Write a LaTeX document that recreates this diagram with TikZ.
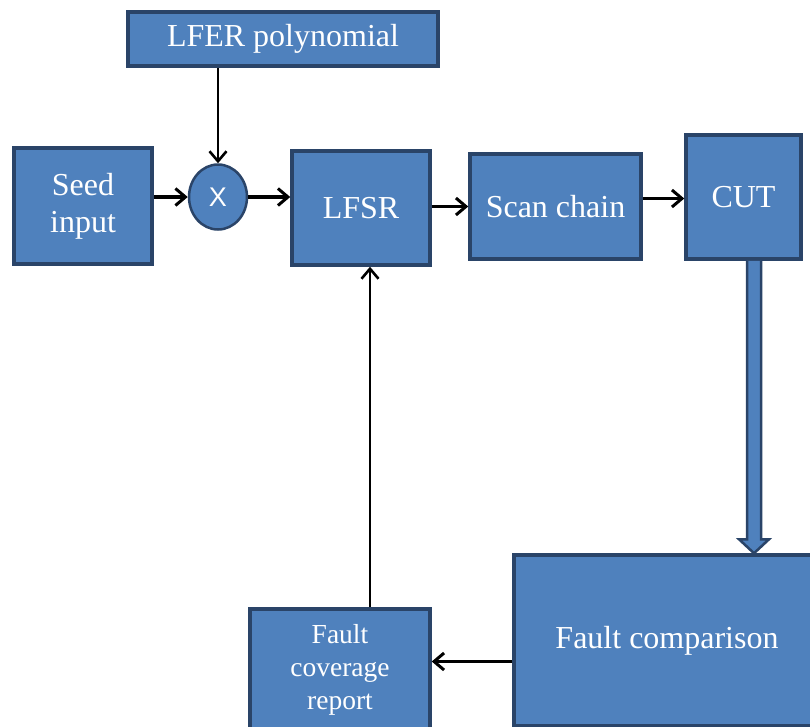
\documentclass[tikz,border=0pt]{standalone}
\usepackage{fontspec}
\setmainfont{Liberation Serif}
\newfontfamily\xsans{Liberation Sans}
\usetikzlibrary{arrows.meta,calc,shapes.geometric}
\definecolor{boxfill}{HTML}{4F81BD}
\definecolor{boxline}{HTML}{2A4468}
\tikzset{
  blk/.style={draw=boxline, fill=boxfill, line width=3.5pt, text=white, inner sep=0pt,
    align=center, font=\fontsize{32}{37}\selectfont},
  flowarrow/.style={draw=black, line width=3.4pt, -{Straight Barb[length=10pt,width=17pt,line width=3pt]}},
  thinarrow/.style={draw=black, line width=2.6pt, -{Straight Barb[length=10pt,width=17pt,line width=2.6pt]}},
}
\begin{document}
\begin{tikzpicture}[x=1pt,y=-1pt]
\useasboundingbox (0,0) rectangle (810,726);
\clip (0,0) rectangle (810,726);
\fill[white] (0,0) rectangle (810,726);

\node[blk, minimum width=310pt, minimum height=54pt] (lfer) at (283,39) {LFER polynomial};
\node[blk, minimum width=138pt, minimum height=116pt] (seed) at (83,206) {Seed\\input};
\node[blk, ellipse, minimum width=58pt, minimum height=65pt, line width=2.5pt,
      font=\xsans\fontsize{27}{30}\selectfont] (x) at (218,197) {X};
\node[blk, minimum width=138pt, minimum height=114pt] (lfsr) at (361,208) {LFSR};
\node[blk, minimum width=171pt, minimum height=105pt] (scan) at (555.5,206.5) {Scan chain};
\node[blk, minimum width=115pt, minimum height=124pt] (cut) at (743.5,197) {CUT};
\node[blk, minimum width=306pt, minimum height=171pt] (fcomp) at (667,640.5) {Fault comparison};
\node[blk, minimum width=180pt, minimum height=122pt, font=\fontsize{27.5}{33}\selectfont] (fcov) at (340,670) {Fault\\coverage\\report};

% connectors
\draw[thinarrow] (x.north |- lfer.south) -- (x.north);
\draw[flowarrow] (seed.east |- x.west) -- (x.west);
\draw[flowarrow] (x.east) -- (x.east -| lfsr.west);
\draw[flowarrow] (lfsr.east |- scan.west) -- (scan.west);
\coordinate (sc) at ($(scan.east)+(0,-8)$);
\draw[flowarrow] (sc) -- (sc -| cut.west);
\coordinate (fc) at ($(fcomp.west)+(0,21)$);
\draw[flowarrow] (fc) -- (fc -| fcov.east);
\coordinate (fv) at ($(fcov.north)+(30,0)$);
\draw[thinarrow] (fv) -- (fv |- lfsr.south);

% block arrow CUT -> Fault comparison
\coordinate (bt) at ($(cut.south)+(10.5,0)$);
\coordinate (bb) at (bt |- fcomp.north);
\draw[draw=boxline, fill=boxfill, line width=2.5pt, line join=miter]
  ($(bt)+(-7,0)$) -- ($(bb)+(-7,-14)$) -- ($(bb)+(-15,-14)$) -- (bb)
  -- ($(bb)+(15,-14)$) -- ($(bb)+(7,-14)$) -- ($(bt)+(7,0)$);
\end{tikzpicture}
\end{document}
